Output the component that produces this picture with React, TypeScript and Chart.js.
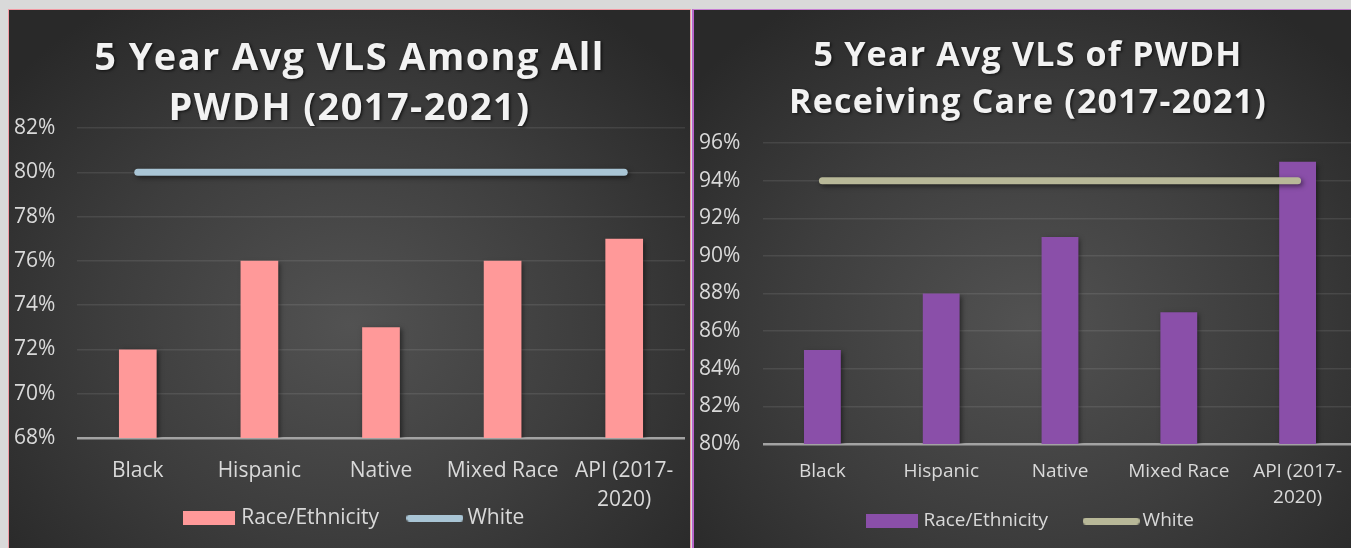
import React, { useEffect, useRef } from "react";
import { Chart, registerables } from "chart.js";

Chart.register(...registerables);

// ---------- data ----------
const categories: (string | string[])[] = ["Black", "Hispanic", "Native", "Mixed Race", ["API (2017-", "2020)"]];
const seriesNames = ["Race/Ethnicity", "White"];

const allPwdhTitle = ["5 Year Avg VLS Among All", "PWDH (2017-2021)"];
const allPwdhRace = [72, 76, 73, 76, 77];
const allPwdhWhite = [80, 80, 80, 80, 80];
const allPwdhTicks = [68, 70, 72, 74, 76, 78, 80, 82];

const careTitle = ["5 Year Avg VLS of PWDH", "Receiving Care (2017-2021)"];
const careRace = [85, 88, 91, 87, 95];
const careWhite = [94, 94, 94, 94, 94];
const careTicks = [80, 82, 84, 86, 88, 90, 92, 94, 96];

// ---------- helpers ----------
function swatch(w: number, h: number, color: string, round: boolean) {
  const c = document.createElement("canvas");
  c.width = w;
  c.height = h;
  const g = c.getContext("2d")!;
  g.fillStyle = color;
  if (round) {
    g.beginPath();
    (g as any).roundRect(0, 0, w, h, h / 2);
    g.fill();
  } else {
    g.fillRect(0, 0, w, h);
  }
  return c;
}

const shadowPlugin = {
  id: "markShadow",
  beforeDatasetsDraw(chart: any) {
    const ctx = chart.ctx;
    ctx.save();
    ctx.shadowColor = "rgba(0,0,0,0.5)";
    ctx.shadowBlur = 5;
    ctx.shadowOffsetX = 2;
    ctx.shadowOffsetY = 2;
  },
  afterDatasetsDraw(chart: any) {
    chart.ctx.restore();
  },
};

const titleStylePlugin = {
  id: "titleStyle",
  beforeDraw(chart: any, _args: any, opts: any) {
    const tb = chart.titleBlock;
    if (tb && !tb.__patched) {
      const orig = tb.draw;
      tb.draw = function (...a: any[]) {
        const ctx = chart.ctx;
        ctx.save();
        ctx.letterSpacing = opts.spacing || "0px";
        ctx.shadowColor = "rgba(0,0,0,0.65)";
        ctx.shadowBlur = 3;
        ctx.shadowOffsetX = 1.5;
        ctx.shadowOffsetY = 1.5;
        orig.apply(this, a);
        ctx.restore();
      };
      tb.__patched = true;
    }
    const lg = chart.legend;
    if (lg && !lg.__shifted) {
      lg.left += opts.legendDx || 0;
      lg.right += opts.legendDx || 0;
      lg.top += opts.legendDy || 0;
      lg.bottom += opts.legendDy || 0;
      lg.__shifted = true;
    }
  },
};

type P = {
  title: string[];
  race: number[];
  white: number[];
  ticks: number[];
  barColor: string;
  lineColor: string;
  titleSize: number;
  titleLH: number;
  titlePadTop: number;
  titlePadBottom: number;
  titleSpacing: string;
  xFont: number;
  xLH: number;
  xPad: number;
  xHeight: number;
  yWidth: number;
  legendFont: number;
  legendPad: number;
  legendDx: number;
  legendDy: number;
  layoutPad: { left: number; right: number; top: number; bottom: number };
};

function buildConfig(p: P): any {
  const min = p.ticks[0];
  const max = p.ticks[p.ticks.length - 1];
  const barSw = swatch(52, 14, p.barColor, false);
  const lineSw = swatch(57, 7, p.lineColor, true);
  return {
    type: "bar",
    data: {
      labels: categories,
      datasets: [
        {
          type: "bar",
          label: seriesNames[0],
          data: p.race,
          backgroundColor: p.barColor,
          barPercentage: 0.31,
          categoryPercentage: 1,
          order: 2,
        },
        {
          type: "line",
          label: seriesNames[1],
          data: p.white,
          borderColor: p.lineColor,
          backgroundColor: p.lineColor,
          borderWidth: 7,
          borderCapStyle: "round",
          pointRadius: 0,
          pointHoverRadius: 0,
          fill: false,
          order: 1,
        },
      ],
    },
    options: {
      responsive: false,
      animation: false,
      layout: { padding: p.layoutPad },
      scales: {
        x: {
          offset: true,
          grid: { display: false },
          border: { display: false },
          ticks: {
            color: "#d9d9d9",
            padding: p.xPad,
            maxRotation: 0,
            autoSkip: false,
            font: { family: "'Open Sans'", size: p.xFont, lineHeight: p.xLH },
          },
          afterFit(scale: any) {
            scale.height = p.xHeight;
            scale._computeLabelArea = () => undefined;
          },
        },
        y: {
          min,
          max,
          border: { display: false },
          grid: {
            drawTicks: false,
            color: (c: any) => (c.tick && c.tick.value === min ? "#a3a3a3" : "rgba(255,255,255,0.09)"),
            lineWidth: (c: any) => (c.tick && c.tick.value === min ? 2.5 : 1.5),
          },
          afterBuildTicks(scale: any) {
            scale.ticks = p.ticks.map((v) => ({ value: v }));
          },
          afterFit(scale: any) {
            scale.width = p.yWidth;
          },
          ticks: {
            color: "#d9d9d9",
            padding: 10,
            crossAlign: "far",
            font: { family: "'Open Sans'", size: 21 },
            callback: (v: any) => `${v}%`,
          },
        },
      },
      plugins: {
        tooltip: { enabled: false },
        titleStyle: { spacing: p.titleSpacing, legendDx: p.legendDx, legendDy: p.legendDy },
        title: {
          display: true,
          text: p.title,
          color: "#f2f2f2",
          font: { family: "'Open Sans'", size: p.titleSize, weight: "bold", lineHeight: p.titleLH },
          padding: { top: p.titlePadTop, bottom: p.titlePadBottom },
        },
        legend: {
          display: true,
          position: "bottom",
          labels: {
            usePointStyle: true,
            pointStyleWidth: 44,
            padding: p.legendPad,
            color: "#d9d9d9",
            font: { family: "'Open Sans'", size: p.legendFont },
            generateLabels: (chart: any) =>
              chart.data.datasets.map((ds: any, i: number) => ({
                text: ds.label,
                fillStyle: i === 0 ? p.barColor : p.lineColor,
                strokeStyle: "rgba(0,0,0,0)",
                lineWidth: 0,
                pointStyle: i === 0 ? barSw : lineSw,
                rotation: 0,
                hidden: false,
                datasetIndex: i,
                fontColor: "#d9d9d9",
              })),
          },
        },
      },
    },
    plugins: [shadowPlugin, titleStylePlugin],
  };
}

function ChartCanvas({ cfg, width, height, left, top }: { cfg: P; width: number; height: number; left: number; top: number }) {
  const ref = useRef<HTMLCanvasElement>(null);
  useEffect(() => {
    const chart = new Chart(ref.current!, buildConfig(cfg));
    return () => chart.destroy();
  }, []);
  return (
    <canvas
      ref={ref}
      width={width}
      height={height}
      style={{ position: "absolute", left, top, width, height, display: "block" }}
    />
  );
}

const leftCfg: P = {
  title: allPwdhTitle,
  race: allPwdhRace,
  white: allPwdhWhite,
  ticks: allPwdhTicks,
  barColor: "#ff9999",
  lineColor: "#a9c5d5",
  titleSize: 38,
  titleLH: 50 / 38,
  titlePadTop: 24,
  titlePadBottom: -6,
  titleSpacing: "1.4px",
  xFont: 21,
  xLH: 29 / 21,
  xPad: 11,
  xHeight: 33.5,
  yWidth: 63,
  legendFont: 21,
  legendPad: 34,
  legendDx: 6,
  legendDy: 2,
  layoutPad: { left: 4, right: 5, top: 0, bottom: 11.5 },
};

const rightCfg: P = {
  title: careTitle,
  race: careRace,
  white: careWhite,
  ticks: careTicks,
  barColor: "#8a4fa9",
  lineColor: "#b8b898",
  titleSize: 34,
  titleLH: 47 / 34,
  titlePadTop: 22.5,
  titlePadBottom: 16.5,
  titleSpacing: "1.2px",
  xFont: 19,
  xLH: 26 / 19,
  xPad: 7,
  xHeight: 24.5,
  yWidth: 64,
  legendFont: 19,
  legendPad: 41,
  legendDx: 4,
  legendDy: 2,
  layoutPad: { left: 5, right: 9, top: 0, bottom: 9.5 },
};

const panelBg =
  "radial-gradient(ellipse 65% 70% at 50% 58%, #525252 0%, #3d3d3d 55%, #292929 100%)";

export default function App() {
  useEffect(() => {
    document.body.style.margin = "0";
  }, []);
  return (
    <div
      style={{
        position: "relative",
        width: 1351,
        height: 548,
        overflow: "hidden",
        background: "#d9d9d9",
        fontFamily: "'Open Sans', sans-serif",
      }}
    >
      <div
        style={{
          position: "absolute",
          left: 8,
          top: 9,
          width: 683,
          height: 545,
          boxSizing: "border-box",
          border: "1px solid #f19aa3",
          background: panelBg,
        }}
      />
      <div
        style={{
          position: "absolute",
          left: 692,
          top: 9,
          width: 675,
          height: 545,
          boxSizing: "border-box",
          borderLeft: "2px solid #b765c9",
          borderTop: "1px solid #c77fd2",
          background: panelBg,
        }}
      />
      <ChartCanvas cfg={leftCfg} width={680} height={538} left={10} top={10} />
      <ChartCanvas cfg={rightCfg} width={672} height={538} left={694} top={10} />
    </div>
  );
}
